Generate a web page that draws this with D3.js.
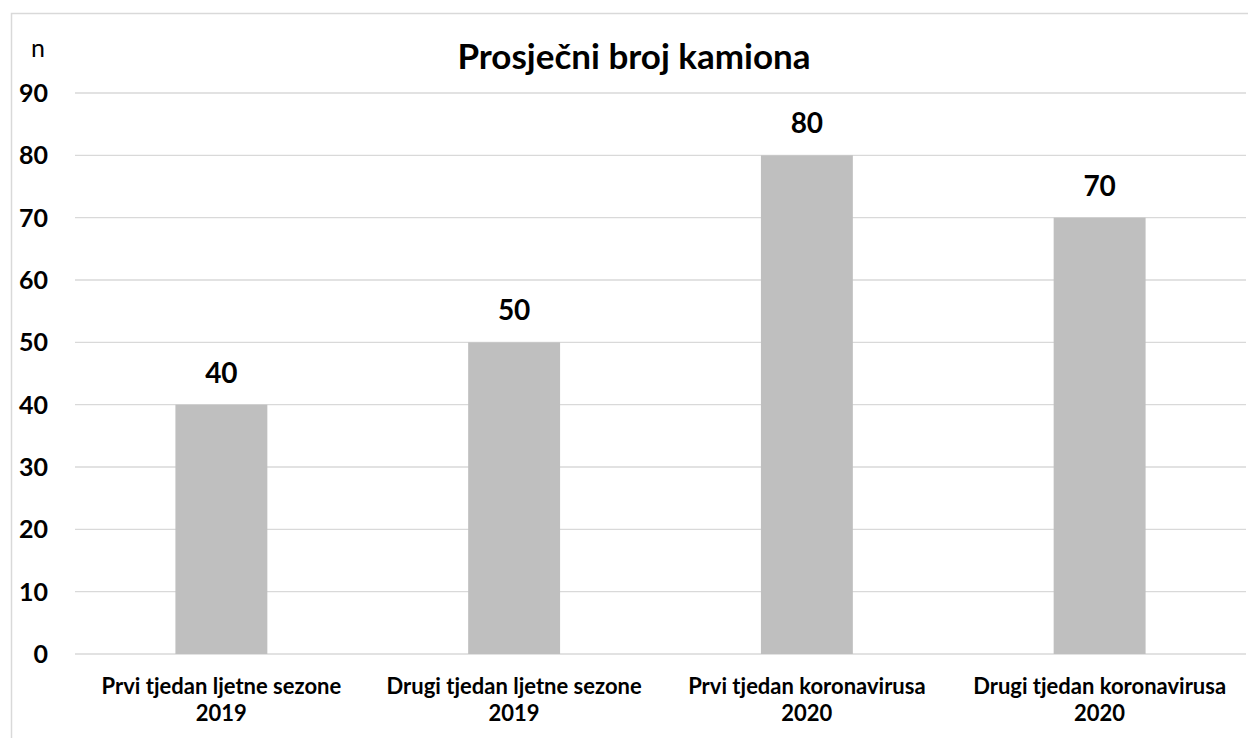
<!DOCTYPE html>
<html>
<head>
<meta charset="utf-8">
<script src="https://cdn.jsdelivr.net/npm/d3@7"></script>
<style>
  body { margin: 0; background: #fff; }
  svg text { font-family: Lato, "Open Sans", sans-serif; fill: #000; }
</style>
</head>
<body>
<div id="chart"></div>
<script>
// data
var categories = [
  ["Prvi tjedan ljetne sezone", "2019"],
  ["Drugi tjedan ljetne sezone", "2019"],
  ["Prvi tjedan koronavirusa", "2020"],
  ["Drugi tjedan koronavirusa", "2020"]
];
var values = [40, 50, 80, 70];
var yTicks = [0, 10, 20, 30, 40, 50, 60, 70, 80, 90];
var title = "Prosječni broj kamiona";
var yLabel = "n";

var W = 1248, H = 738;
var margin = {top: 93, right: 2, bottom: 84, left: 75};

var svg = d3.select("#chart").append("svg")
  .attr("width", W)
  .attr("height", H);

// chart frame
svg.append("rect")
  .attr("x", 11.5).attr("y", 13.5)
  .attr("width", W).attr("height", H)
  .attr("fill", "none")
  .attr("stroke", "#d9d9d9")
  .attr("stroke-width", 1.5);

var x = d3.scaleBand()
  .domain(d3.range(categories.length))
  .range([margin.left, W - margin.right])
  .paddingInner(0.686)
  .paddingOuter(0.343);

var y = d3.scaleLinear()
  .domain([0, 90])
  .range([H - margin.bottom, margin.top]);

// gridlines
svg.append("g").selectAll("line")
  .data(yTicks)
  .enter().append("line")
  .attr("x1", margin.left)
  .attr("x2", W - margin.right)
  .attr("y1", function(d) { return y(d); })
  .attr("y2", function(d) { return y(d); })
  .attr("stroke", "#d9d9d9")
  .attr("stroke-width", 1.4);

// y tick labels
svg.append("g").selectAll("text")
  .data(yTicks)
  .enter().append("text")
  .attr("x", 48)
  .attr("y", function(d) { return y(d) + 9; })
  .attr("text-anchor", "end")
  .attr("font-size", 25)
  .attr("font-weight", "bold")
  .text(function(d) { return d; });

// bars
svg.append("g").selectAll("rect")
  .data(values)
  .enter().append("rect")
  .attr("x", function(d, i) { return x(i); })
  .attr("width", x.bandwidth())
  .attr("y", function(d) { return y(d); })
  .attr("height", function(d) { return y(0) - y(d); })
  .attr("fill", "#bfbfbf");

// value labels
svg.append("g").selectAll("text")
  .data(values)
  .enter().append("text")
  .attr("x", function(d, i) { return x(i) + x.bandwidth() / 2; })
  .attr("y", function(d) { return y(d) - 22; })
  .attr("text-anchor", "middle")
  .attr("font-size", 28)
  .attr("font-weight", "bold")
  .text(function(d) { return d; });

// category labels, two lines each
var cat = svg.append("g").selectAll("text")
  .data(categories)
  .enter().append("text")
  .attr("text-anchor", "middle")
  .attr("font-size", 22)
  .attr("font-weight", "bold");
cat.append("tspan")
  .attr("x", function(d, i) { return x(i) + x.bandwidth() / 2; })
  .attr("y", 694)
  .text(function(d) { return d[0]; });
cat.append("tspan")
  .attr("x", function(d, i) { return x(i) + x.bandwidth() / 2; })
  .attr("y", 721)
  .text(function(d) { return d[1]; });

// title
svg.append("text")
  .attr("x", 634)
  .attr("y", 69)
  .attr("text-anchor", "middle")
  .attr("font-size", 35)
  .attr("font-weight", "bold")
  .text(title);

// axis unit
svg.append("text")
  .attr("x", 38)
  .attr("y", 57)
  .attr("text-anchor", "middle")
  .attr("font-size", 25)
  .text(yLabel);
</script>
</body>
</html>
